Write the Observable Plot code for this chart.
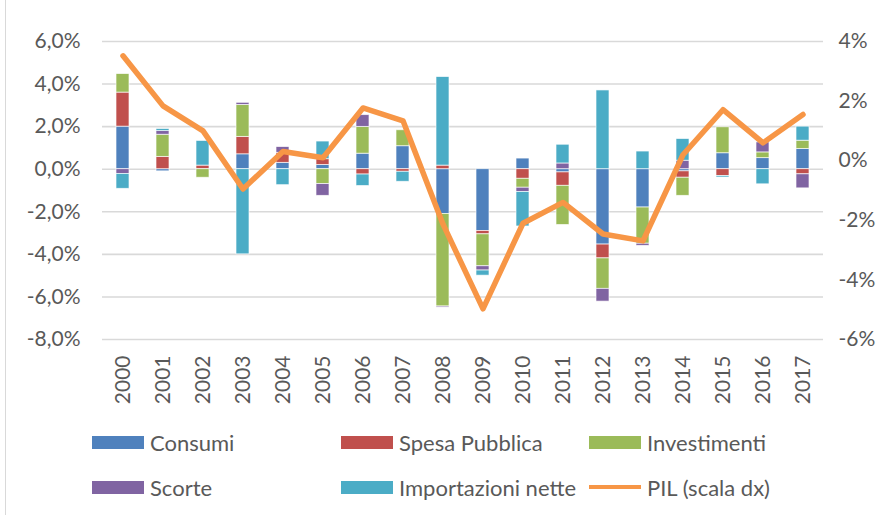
<!DOCTYPE html>
<html>
<head>
<meta charset="utf-8">
<script src="https://cdn.jsdelivr.net/npm/d3@7"></script>
<script src="https://cdn.jsdelivr.net/npm/@observablehq/plot@0.6"></script>
<style>
  html, body { margin: 0; padding: 0; background: #fff; }
  #wrap { position: relative; width: 891px; height: 515px; overflow: hidden; font-family: Lato, "Liberation Sans", sans-serif; color: #595959; }
  #frame { position: absolute; left: 5px; top: 0; width: 1px; height: 515px; background: #d9d9d9; }
  .leg { position: absolute; display: flex; align-items: center; font-size: 22px; color: #595959; white-space: nowrap; }
  .sw { width: 52px; height: 13px; margin-right: 6px; }
  .ln { width: 52px; height: 4px; margin-right: 6px; }
</style>
</head>
<body>
<div id="wrap"><div id="frame"></div><div id="chart"></div></div>
<script>
const years = ["2000","2001","2002","2003","2004","2005","2006","2007","2008","2009","2010","2011","2012","2013","2014","2015","2016","2017"];
const seriesNames = ["Consumi", "Spesa Pubblica", "Investimenti", "Scorte", "Importazioni nette"];
const consumi      = [2.0, -0.1, 0.0, 0.7, 0.3, 0.2, 0.73, 1.08, -2.1, -2.9, 0.5, -0.15, -3.54, -1.8, -0.1, 0.75, 0.52, 0.95];
const spesa        = [1.6, 0.58, 0.17, 0.82, 0.47, 0.27, -0.25, -0.12, 0.17, -0.16, -0.45, -0.63, -0.65, 0.0, -0.3, -0.32, 0.0, -0.24];
const investimenti = [0.87, 1.04, -0.4, 1.5, 0.0, -0.7, 1.26, 0.75, -4.35, -1.5, -0.42, -1.84, -1.43, -1.7, -0.85, 1.22, 0.27, 0.39];
const scorte       = [-0.22, 0.17, 0.0, 0.1, 0.27, -0.55, 0.55, 0.0, -0.05, -0.2, -0.2, 0.27, -0.6, -0.1, 0.4, 0.0, 0.47, -0.66];
const importazioni = [-0.7, 0.1, 1.16, -4.0, -0.75, 0.83, -0.54, -0.47, 4.16, -0.24, -1.62, 0.88, 3.7, 0.83, 1.02, -0.07, -0.71, 0.66];
const pil          = [3.52, 1.84, 1.0, -0.95, 0.31, 0.1, 1.77, 1.34, -2.13, -4.97, -2.1, -1.4, -2.46, -2.69, 0.2, 1.71, 0.6, 1.55];
const pilName = "PIL (scala dx)";
const leftTicks = [-8, -6, -4, -2, 0, 2, 4, 6];
const rightTicks = [-6, -4, -2, 0, 2, 4];
const colors = ["#4F81BD", "#C0504D", "#9BBB59", "#8064A2", "#4BACC6"];
const pilColor = "#F79646";

const seriesValues = [consumi, spesa, investimenti, scorte, importazioni];
const bars = [];
seriesNames.forEach((s, si) => years.forEach((y, i) => bars.push({year: y, series: s, value: seriesValues[si][i]})));
const line = years.map((y, i) => ({year: y, pil: pil[i]}));

// right axis (-6..4) mapped onto left axis (-8..6)
const toLeft = r => (r + 6) * 1.4 - 8;
const fromLeft = l => (l + 8) / 1.4 - 6;

const chart = Plot.plot({
  width: 891,
  height: 420,
  marginLeft: 102,
  marginRight: 68,
  marginTop: 41,
  marginBottom: 81,
  style: {fontFamily: "Lato, 'Liberation Sans', sans-serif", fontSize: "21px", color: "#595959", background: "white"},
  x: {type: "band", domain: years, paddingInner: 0.68, paddingOuter: 0.34},
  y: {domain: [-8, 6]},
  color: {domain: seriesNames, range: colors},
  marks: [
    Plot.ruleY(leftTicks, {stroke: "#d9d9d9", strokeWidth: 1.6}),
    Plot.barY(bars, Plot.stackY({x: "year", y: "value", fill: "series", stroke: "white", strokeWidth: 0.8, strokeOpacity: 0.8})),
    Plot.line(line, {x: "year", y: d => toLeft(d.pil), stroke: pilColor, strokeWidth: 5.5, strokeLinejoin: "round", strokeLinecap: "round"}),
    Plot.axisY(leftTicks, {anchor: "left", tickSize: 0, tickPadding: 22, label: null,
      tickFormat: d => (d < 0 ? "-" : "") + Math.abs(d).toFixed(1).replace(".", ",") + "%"}),
    Plot.axisY(rightTicks.map(toLeft), {anchor: "right", tickSize: 0, tickPadding: 15, label: null,
      tickFormat: d => { const r = Math.round(fromLeft(d)); return (r < 0 ? "-" : "") + Math.abs(r) + "%"; }}),
    Plot.axisX({tickRotate: -90, tickSize: 0, tickPadding: 16, label: null})
  ]
});
document.getElementById("chart").appendChild(chart);

// legend
const wrap = document.getElementById("wrap");
const legendItems = seriesNames.map((s, i) => ({name: s, color: colors[i], line: false}));
legendItems.push({name: pilName, color: pilColor, line: true});
const colX = [92, 341, 589];
const rowY = [442, 487];
legendItems.forEach((it, i) => {
  const d = document.createElement("div");
  d.className = "leg";
  d.style.left = colX[i % 3] + "px";
  d.style.top = (rowY[Math.floor(i / 3)] - 15) + "px";
  d.style.height = "30px";
  const sw = document.createElement("div");
  sw.className = it.line ? "ln" : "sw";
  sw.style.background = it.color;
  const t = document.createElement("span");
  t.textContent = it.name;
  d.appendChild(sw); d.appendChild(t);
  wrap.appendChild(d);
});
</script>
</body>
</html>
